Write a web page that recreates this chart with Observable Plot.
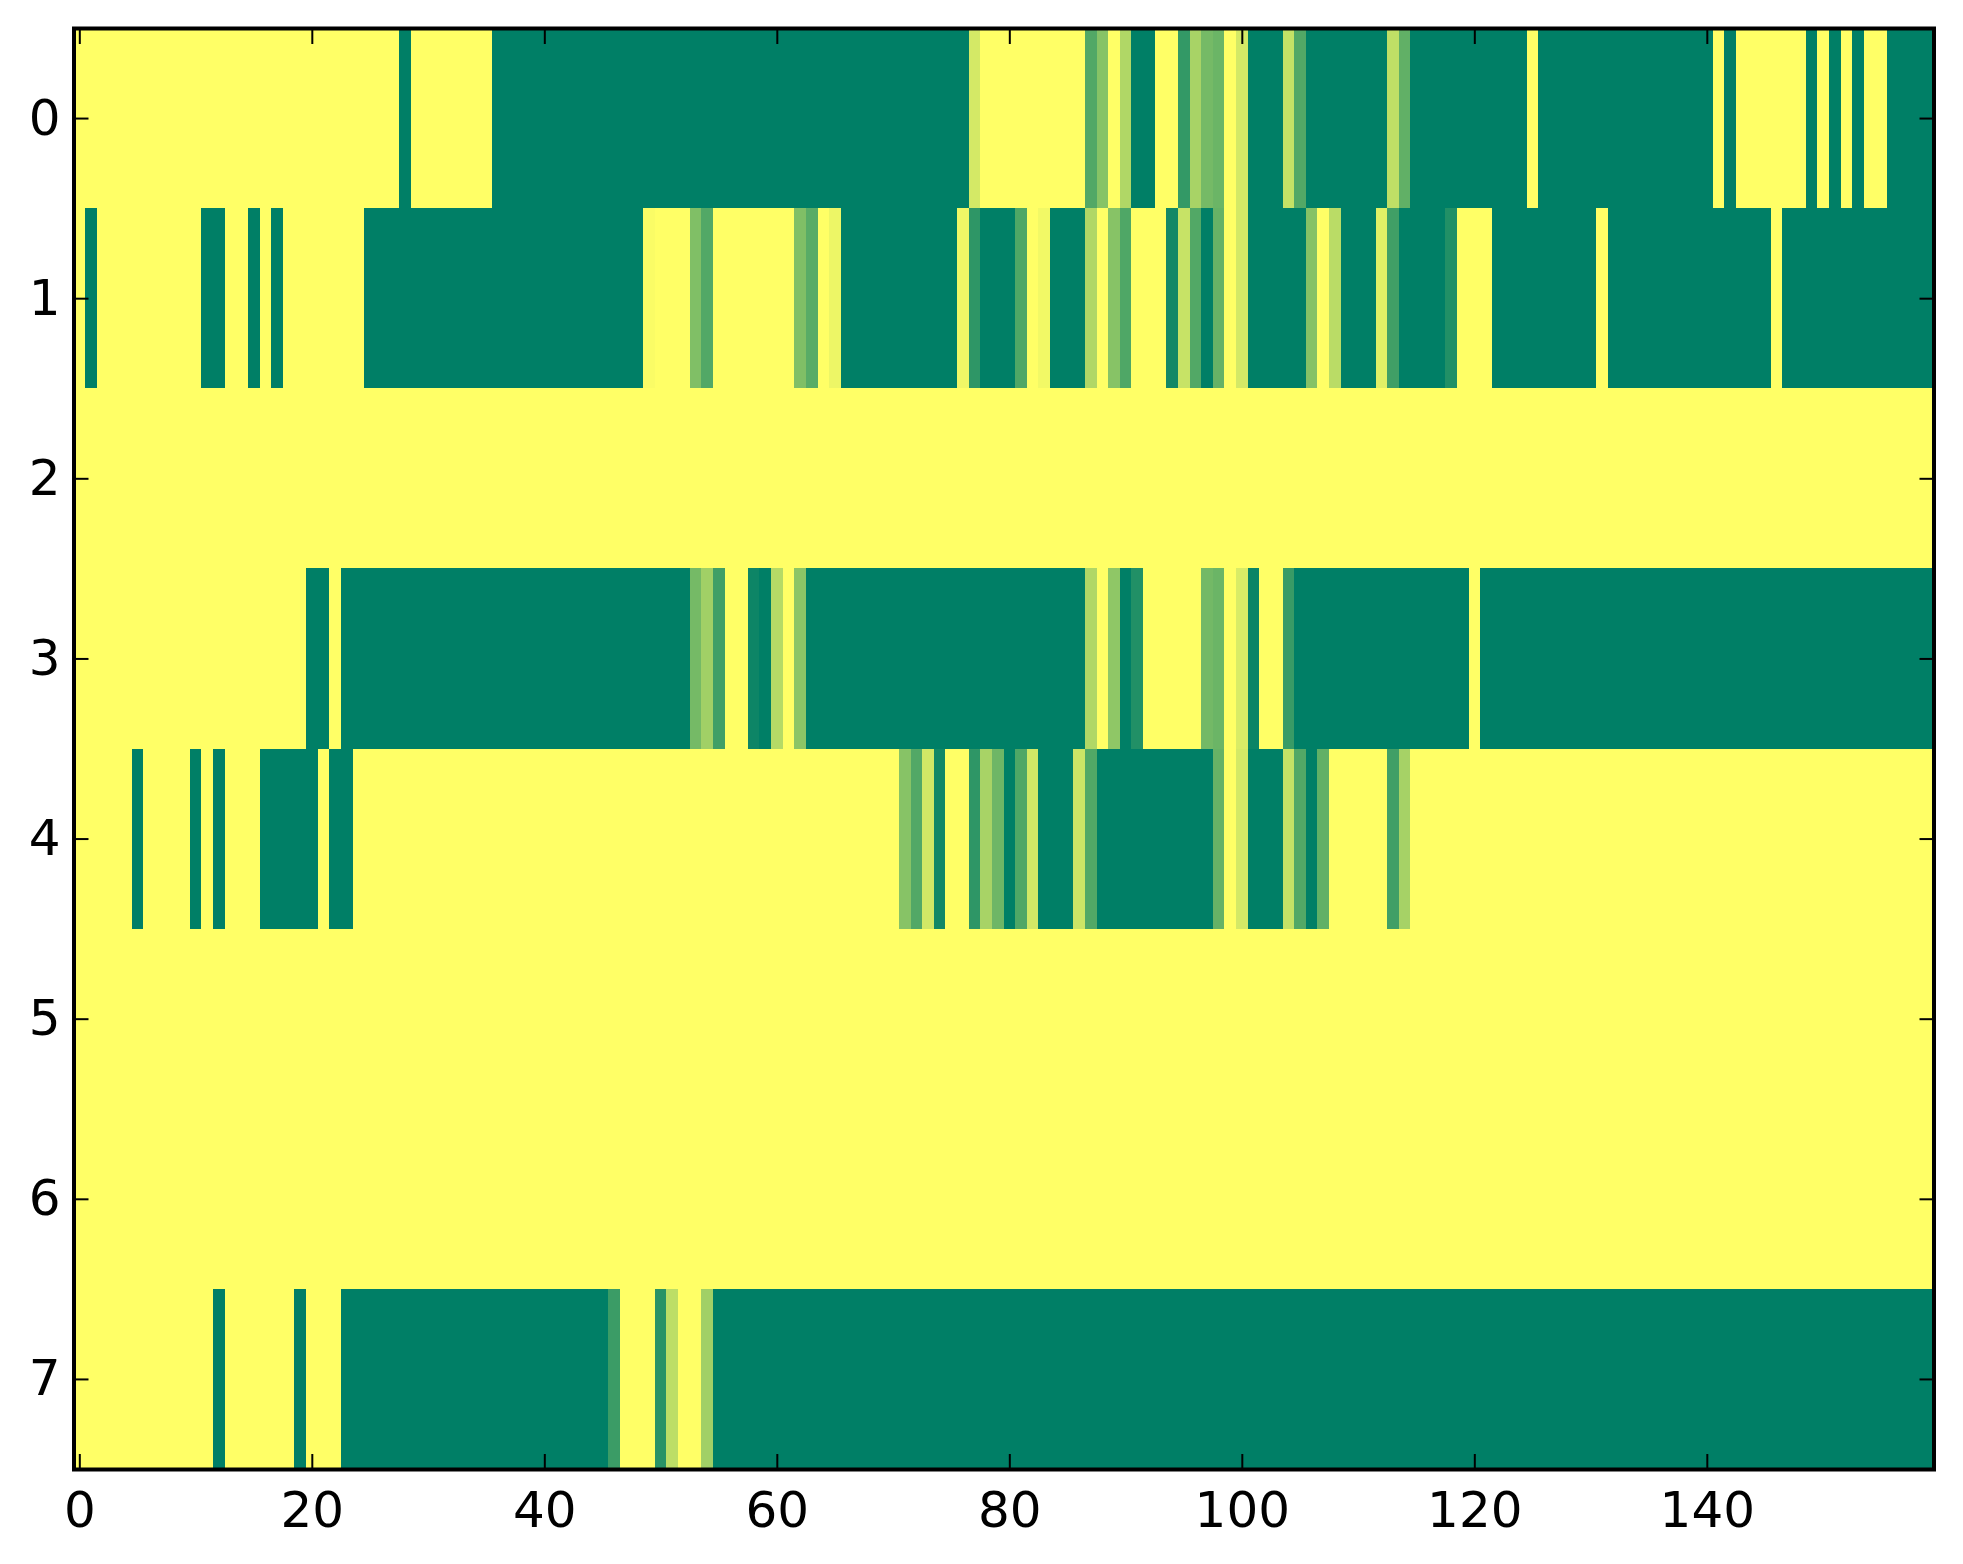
<!DOCTYPE html>
<html>
<head>
<meta charset="utf-8">
<style>html,body{margin:0;padding:0;background:#fff}svg{display:block}</style>
<script src="https://cdn.jsdelivr.net/npm/d3@7"></script>
<script src="https://cdn.jsdelivr.net/npm/@observablehq/plot@0.6"></script>
</head>
<body>
<div id="chart"></div>
<script>
const row0 = [
0,0,0,0,0,0,0,0,0,0,
0,0,0,0,0,0,0,0,0,0,
0,0,0,0,0,0,0,0,1,0,
0,0,0,0,0,0,1,1,1,1,
1,1,1,1,1,1,1,1,1,1,
1,1,1,1,1,1,1,1,1,1,
1,1,1,1,1,1,1,1,1,1,
1,1,1,1,1,1,1,.17,0,0,
0,0,0,0,0,0,0,.68,.47,0,
.31,1,1,0,0,.8,.34,.54,.58,0,
.17,1,1,1,.23,.68,1,1,1,1,
1,1,1,.25,.62,1,1,1,1,1,
1,1,1,1,1,0,1,1,1,1,
1,1,1,1,1,1,1,1,1,1,
1,0,1,0,0,0,0,0,0,1,
0,1,0,1,0,0,1,1,1,1];
const row1 = [
0,1,0,0,0,0,0,0,0,0,
0,1,1,0,0,1,0,1,0,0,
0,0,0,0,0,1,1,1,1,1,
1,1,1,1,1,1,1,1,1,1,
1,1,1,1,1,1,1,1,1,.02,
0,0,0,.5,.68,0,0,0,0,0,
0,0,.5,.65,0,.07,1,1,1,1,
1,1,1,1,1,1,.06,.82,1,1,
1,.69,0,.05,1,1,1,.31,0,.47,
.69,0,0,0,.93,.22,.68,1,.6,0,
.17,1,1,1,1,1,.48,0,.27,1,
1,1,.12,.75,1,1,1,1,.87,0,
0,0,1,1,1,1,1,1,1,1,
1,0,1,1,1,1,1,1,1,1,
1,1,1,1,1,1,0,1,1,1,
1,1,1,1,1,1,1,1,1,1];
const row2 = [
0,0,0,0,0,0,0,0,0,0,0,0,0,0,0,0,0,0,0,0,
0,0,0,0,0,0,0,0,0,0,0,0,0,0,0,0,0,0,0,0,
0,0,0,0,0,0,0,0,0,0,0,0,0,0,0,0,0,0,0,0,
0,0,0,0,0,0,0,0,0,0,0,0,0,0,0,0,0,0,0,0,
0,0,0,0,0,0,0,0,0,0,0,0,0,0,0,0,0,0,0,0,
0,0,0,0,0,0,0,0,0,0,0,0,0,0,0,0,0,0,0,0,
0,0,0,0,0,0,0,0,0,0,0,0,0,0,0,0,0,0,0,0,
0,0,0,0,0,0,0,0,0,0,0,0,0,0,0,0,0,0,0,0];
const row3 = [
0,0,0,0,0,0,0,0,0,0,
0,0,0,0,0,0,0,0,0,0,
1,1,0,1,1,1,1,1,1,1,
1,1,1,1,1,1,1,1,1,1,
1,1,1,1,1,1,1,1,1,1,
1,1,1,.54,.37,.75,0,0,.95,1,
.29,0,.45,1,1,1,1,1,1,1,
1,1,1,1,1,1,1,1,1,1,
1,1,1,1,1,1,1,.31,0,.44,
1,.87,0,0,0,0,0,.55,.58,0,
.15,.96,0,0,.78,1,1,1,1,1,
1,1,1,1,1,1,1,1,1,1,
0,1,1,1,1,1,1,1,1,1,
1,1,1,1,1,1,1,1,1,1,
1,1,1,1,1,1,1,1,1,1,
1,1,1,1,1,1,1,1,1,1];
const row4 = [
0,0,0,0,0,1,0,0,0,0,
1,0,1,0,0,0,1,1,1,1,
1,0,1,1,0,0,0,0,0,0,
0,0,0,0,0,0,0,0,0,0,
0,0,0,0,0,0,0,0,0,0,
0,0,0,0,0,0,0,0,0,0,
0,0,0,0,0,0,0,0,0,0,
0,.47,.68,.18,.93,0,0,.82,.34,.57,
1,.69,.18,1,1,1,.2,.68,1,1,
1,1,1,1,1,1,1,1,.6,0,
.17,1,1,1,.23,.68,1,.62,0,0,
0,0,0,.75,.35,0,0,0,0,0,
0,0,0,0,0,0,0,0,0,0,
0,0,0,0,0,0,0,0,0,0,
0,0,0,0,0,0,0,0,0,0,
0,0,0,0,0,0,0,0,0,0];
const row5 = row2.slice();
const row6 = row2.slice();
const row7 = [
0,0,0,0,0,0,0,0,0,0,
0,0,1,0,0,0,0,0,0,1,
0,0,0,1,1,1,1,1,1,1,
1,1,1,1,1,1,1,1,1,1,
1,1,1,1,1,1,.77,0,0,0,
.84,.26,0,0,.37,1,1,1,1,1,
1,1,1,1,1,1,1,1,1,1,
1,1,1,1,1,1,1,1,1,1,
1,1,1,1,1,1,1,1,1,1,
1,1,1,1,1,1,1,1,1,1,
1,1,1,1,1,1,1,1,1,1,
1,1,1,1,1,1,1,1,1,1,
1,1,1,1,1,1,1,1,1,1,
1,1,1,1,1,1,1,1,1,1,
1,1,1,1,1,1,1,1,1,1,
1,1,1,1,1,1,1,1,1,1];
const rows = [row0,row1,row2,row3,row4,row5,row6,row7];
const xTicks = [0,20,40,60,80,100,120,140];
const yTicks = [0,1,2,3,4,5,6,7];

const cells = rows.flatMap((vals,r)=>vals.map((v,c)=>({r,c,v})));

const chart = Plot.plot({
  width:1963, height:1564,
  marginLeft:73.5, marginRight:29.5, marginTop:28, marginBottom:95,
  style:{fontFamily:"'DejaVu Sans'", background:"#fff", color:"#000"},
  x:{type:"linear", domain:[-0.5,159.5], nice:false, label:null},
  y:{type:"linear", domain:[7.5,-0.5], nice:false, label:null},
  color:{type:"linear", domain:[0,1], range:["#ffff66","#007f66"]},
  marks:[
    Plot.rect(cells,{x1:d=>d.c-0.5,x2:d=>d.c+0.5,y1:d=>d.r-0.5,y2:d=>d.r+0.5,fill:"v",shapeRendering:"crispEdges"}),
    Plot.axisX(xTicks,{anchor:"bottom",tickSize:-15,strokeWidth:2,text:null,label:null}),
    Plot.axisX(xTicks,{anchor:"top",tickSize:-15,strokeWidth:2,text:null,label:null}),
    Plot.axisY(yTicks,{anchor:"left",tickSize:-15,strokeWidth:2,text:null,label:null}),
    Plot.axisY(yTicks,{anchor:"right",tickSize:-15,strokeWidth:2,text:null,label:null}),
    Plot.axisX(xTicks,{anchor:"bottom",tickSize:0,tickPadding:22,fontSize:50,label:null,tickFormat:d=>String(d),fill:"#000"}),
    Plot.axisY(yTicks,{anchor:"left",tickSize:0,tickPadding:13.5,fontSize:50,label:null,tickFormat:d=>String(d),fill:"#000"}),
    Plot.frame({stroke:"#000",strokeWidth:4})
  ]
});
document.getElementById("chart").appendChild(chart);
</script>
</body>
</html>
